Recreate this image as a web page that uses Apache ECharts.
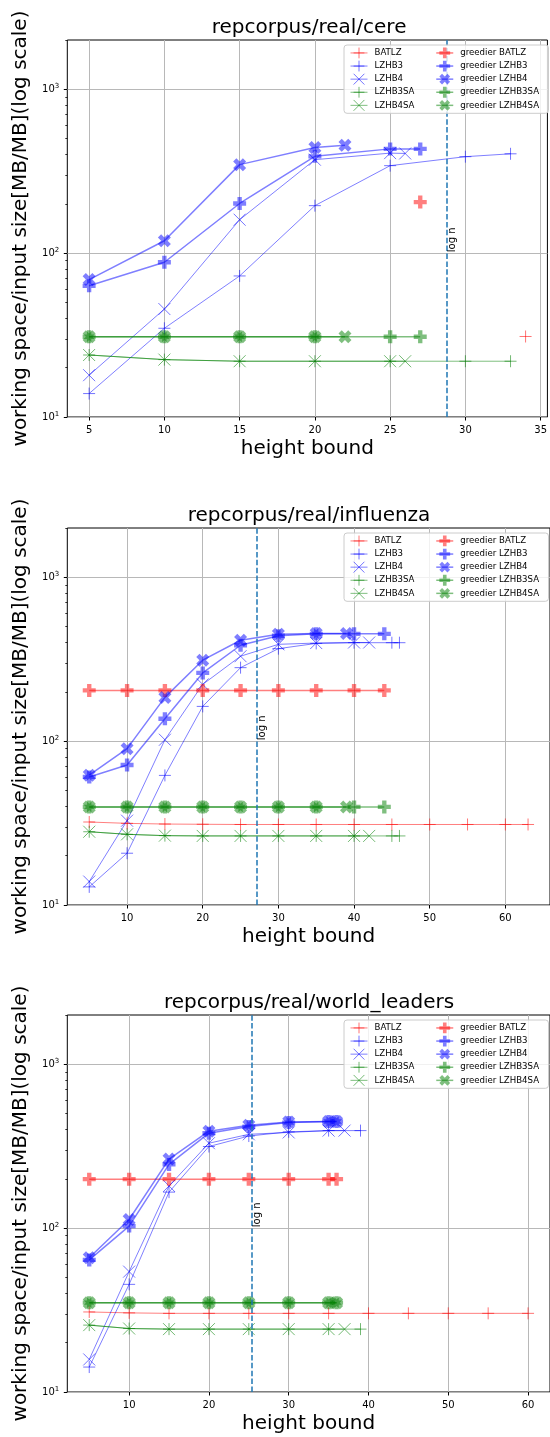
<!DOCTYPE html>
<html>
<head>
<meta charset="utf-8">
<script src="https://cdn.jsdelivr.net/npm/echarts@6/dist/echarts.min.js"></script>
<style>
html,body{margin:0;padding:0;background:#fff;}
#chart{width:550px;height:1437px;}
</style>
</head>
<body>
<div id="chart"></div>
<script>
// ---------------- DATA ----------------
const seriesNames = ['BATLZ', 'LZHB3', 'LZHB4', 'LZHB3SA', 'LZHB4SA',
  'greedier BATLZ', 'greedier LZHB3', 'greedier LZHB4', 'greedier LZHB3SA', 'greedier LZHB4SA'];
const panelTitles = ['repcorpus/real/cere', 'repcorpus/real/influenza', 'repcorpus/real/world_leaders'];
const xAxisName = 'height bound';
const yAxisName = 'working space/input size[MB/MB](log scale)';
const logNValues = [28.79, 27.2, 25.4];
const logNLabel = 'log n';
const logNLabelY = 100;
const xLimits = [[3.55, 35.45], [2.1, 65.9], [2.25, 62.75]];
const yLimits = [10, 2000];
const xTicksCere = [5, 10, 15, 20, 25, 30, 35];
const xTicksInfluenza = [10, 20, 30, 40, 50, 60];
const xTicksLeaders = [10, 20, 30, 40, 50, 60];
const yTicks = [10, 100, 1000];
const yMinorTicks = [20, 30, 40, 50, 60, 70, 80, 90, 200, 300, 400, 500, 600, 700, 800, 900, 2000];

// cere
const cereBATLZ = [[34, 31]];
const cereLZHB3 = [[5, 13.9], [10, 34.8], [15, 72.6], [20, 195], [25, 342], [30, 388], [33, 404]];
const cereLZHB4 = [[5, 18.0], [10, 45.6], [15, 160], [20, 372], [25, 408], [26, 406]];
const cereLZHB3SA = [[5, 23.9], [10, 22.4], [15, 21.9], [20, 21.9], [25, 21.9], [30, 21.9], [33, 21.9]];
const cereLZHB4SA = [[5, 23.9], [10, 22.4], [15, 21.9], [20, 21.9], [25, 21.9], [26, 21.9]];
const cereGBATLZ = [[27, 205]];
const cereGLZHB3 = [[5, 63.2], [10, 88], [15, 201], [20, 390], [25, 433], [27, 433]];
const cereGLZHB4 = [[5, 69], [10, 119], [15, 347], [20, 442], [22, 455]];
const cereGLZHB3SA = [[5, 30.9], [10, 30.9], [15, 30.9], [20, 30.9], [25, 30.9], [27, 30.9]];
const cereGLZHB4SA = [[5, 30.9], [10, 30.9], [15, 30.9], [20, 30.9], [22, 30.9]];

// influenza
const fluBATLZ = [[5, 32.1], [10, 31.5], [15, 31.2], [20, 31.1], [25, 31], [30, 31], [35, 31], [40, 31], [45, 31], [50, 31], [55, 31], [60, 31], [63, 31]];
const fluLZHB3 = [[5, 12.9], [10, 20.7], [15, 61.8], [20, 163], [25, 281], [30, 367], [35, 395], [40, 399], [45, 399], [46, 399]];
const fluLZHB4 = [[5, 13.9], [10, 32.7], [15, 102], [20, 222], [25, 330], [30, 390], [35, 397], [40, 400], [42, 400]];
const fluLZHB3SA = [[5, 28], [10, 27], [15, 26.5], [20, 26.4], [25, 26.4], [30, 26.4], [35, 26.4], [40, 26.4], [45, 26.4], [46, 26.4]];
const fluLZHB4SA = [[5, 28], [10, 27], [15, 26.5], [20, 26.4], [25, 26.4], [30, 26.4], [35, 26.4], [40, 26.4], [42, 26.4]];
const fluGBATLZ = [[5, 204], [10, 204], [15, 204], [20, 204], [25, 204], [30, 204], [35, 204], [40, 204], [44, 204]];
const fluGLZHB3 = [[5, 60.5], [10, 71.5], [15, 137], [20, 261], [25, 385], [30, 440], [35, 452], [40, 452], [44, 452]];
const fluGLZHB4 = [[5, 62], [10, 90], [15, 185], [20, 312], [25, 413], [30, 449], [35, 454], [39, 454]];
const fluGLZHB3SA = [[5, 39.7], [10, 39.7], [15, 39.7], [20, 39.7], [25, 39.7], [30, 39.7], [35, 39.7], [40, 39.7], [44, 39.7]];
const fluGLZHB4SA = [[5, 39.7], [10, 39.7], [15, 39.7], [20, 39.7], [25, 39.7], [30, 39.7], [35, 39.7], [39, 39.7]];

// world_leaders
const wlBATLZ = [[5, 30.8], [10, 30.4], [15, 30.2], [20, 30.2], [25, 30.2], [30, 30.2], [35, 30.2], [40, 30.2], [45, 30.2], [50, 30.2], [55, 30.2], [60, 30.2]];
const wlLZHB3 = [[5, 14.2], [10, 45.4], [15, 166], [20, 315], [25, 365], [30, 387], [35, 394], [39, 394]];
const wlLZHB4 = [[5, 15.8], [10, 54.3], [15, 181], [20, 330], [25, 374], [30, 384], [35, 394], [37, 394]];
const wlLZHB3SA = [[5, 25.6], [10, 24.4], [15, 24.2], [20, 24.2], [25, 24.2], [30, 24.2], [35, 24.2], [39, 24.2]];
const wlLZHB4SA = [[5, 25.6], [10, 24.4], [15, 24.2], [20, 24.2], [25, 24.2], [30, 24.2], [35, 24.2], [37, 24.2]];
const wlGBATLZ = [[5, 199], [10, 199], [15, 199], [20, 199], [25, 199], [30, 199], [35, 199], [36, 199]];
const wlGLZHB3 = [[5, 64], [10, 103], [15, 245], [20, 380], [25, 417], [30, 441], [35, 448], [36, 448]];
const wlGLZHB4 = [[5, 66], [10, 113], [15, 264], [20, 391], [25, 425], [30, 445], [35, 448], [36, 448]];
const wlGLZHB3SA = [[5, 35.1], [10, 35.1], [15, 35.1], [20, 35.1], [25, 35.1], [30, 35.1], [35, 35.1], [36, 35.1]];
const wlGLZHB4SA = [[5, 35.1], [10, 35.1], [15, 35.1], [20, 35.1], [25, 35.1], [30, 35.1], [35, 35.1], [36, 35.1]];

// ---------------- BUILD ----------------
const panels = [
  { title: panelTitles[0], logN: logNValues[0], xLim: xLimits[0], xTicks: xTicksCere,
    data: [cereBATLZ, cereLZHB3, cereLZHB4, cereLZHB3SA, cereLZHB4SA, cereGBATLZ, cereGLZHB3, cereGLZHB4, cereGLZHB3SA, cereGLZHB4SA] },
  { title: panelTitles[1], logN: logNValues[1], xLim: xLimits[1], xTicks: xTicksInfluenza,
    data: [fluBATLZ, fluLZHB3, fluLZHB4, fluLZHB3SA, fluLZHB4SA, fluGBATLZ, fluGLZHB3, fluGLZHB4, fluGLZHB3SA, fluGLZHB4SA] },
  { title: panelTitles[2], logN: logNValues[2], xLim: xLimits[2], xTicks: xTicksLeaders,
    data: [wlBATLZ, wlLZHB3, wlLZHB4, wlLZHB3SA, wlLZHB4SA, wlGBATLZ, wlGLZHB3, wlGLZHB4, wlGLZHB3SA, wlGLZHB4SA] }
];

const FONT = 'DejaVu Sans';
const RED = [255, 0, 0], BLUE = [0, 0, 255], GREEN = [0, 128, 0];
const rgba = (c, a) => `rgba(${c[0]},${c[1]},${c[2]},${a})`;
const SYM = {
  plus: 'path://M5,0L5,10M0,5L10,5',
  cross: 'path://M0,0L10,10M10,0L0,10',
  P: 'path://M3.33,0H6.67V3.33H10V6.67H6.67V10H3.33V6.67H0V3.33H3.33Z',
  X: 'path://M2.5,0L5,2.5L7.5,0L10,2.5L7.5,5L10,7.5L7.5,10L5,7.5L2.5,10L0,7.5L2.5,5L0,2.5Z'
};
const styleFor = [
  { c: RED, sym: 'plus', greedy: false },
  { c: BLUE, sym: 'plus', greedy: false },
  { c: BLUE, sym: 'cross', greedy: false },
  { c: GREEN, sym: 'plus', greedy: false },
  { c: GREEN, sym: 'cross', greedy: false },
  { c: RED, sym: 'P', greedy: true },
  { c: BLUE, sym: 'P', greedy: true },
  { c: BLUE, sym: 'X', greedy: true },
  { c: GREEN, sym: 'P', greedy: true },
  { c: GREEN, sym: 'X', greedy: true }
];

const plotTops = [40, 528, 1015];
const plotH = 377, plotLeft = 67.3, plotW = 483.5;

const option = {
  animation: false,
  backgroundColor: '#ffffff',
  title: [], grid: [], xAxis: [], yAxis: [], legend: [], series: []
};

const legendCommon = {
  orient: 'vertical', itemWidth: 17, itemHeight: 13.5, itemGap: 0,
  selectedMode: false,
  itemStyle: { borderWidth: 'inherit' },
  lineStyle: { width: 'inherit' },
  textStyle: { fontFamily: FONT, fontSize: 8.6, color: '#000', lineHeight: 13.1, padding: [0, 0, 0, 2] }
};

const yMinor = [];
panels.forEach((p, i) => {
  const top = plotTops[i];
  option.title.push({
    text: p.title, left: plotLeft + plotW / 2, top: top - 22, textAlign: 'center', padding: 0,
    textStyle: { fontFamily: FONT, fontSize: 20, fontWeight: 'normal', color: '#000' }
  });
  option.grid.push({
    left: plotLeft, top: top, width: plotW, height: plotH,
    show: true, borderColor: '#000', borderWidth: 1, backgroundColor: 'transparent'
  });
  option.xAxis.push({
    gridIndex: i, type: 'value', min: p.xLim[0], max: p.xLim[1],
    name: xAxisName, nameLocation: 'middle', nameGap: 22,
    nameTextStyle: { fontFamily: FONT, fontSize: 20, color: '#000' },
    axisLine: { show: false },
    axisTick: { show: true, length: 3.5, customValues: p.xTicks, lineStyle: { color: '#000', width: 1 } },
    axisLabel: { customValues: p.xTicks, fontFamily: FONT, fontSize: 10, color: '#000', margin: 8 },
    splitLine: { show: true, lineStyle: { color: '#b8b8b8', width: 1 } }
  });
  option.yAxis.push({
    gridIndex: i, type: 'log', logBase: 10, min: yLimits[0], max: yLimits[1], position: 'left',
    name: yAxisName, nameLocation: 'middle', nameGap: 28, nameRotate: 90,
    nameTextStyle: { fontFamily: FONT, fontSize: 20, color: '#000' },
    axisLine: { show: false },
    axisTick: { show: true, length: 3.5, customValues: yTicks, lineStyle: { color: '#000', width: 1 } },
    axisLabel: {
      customValues: yTicks, margin: 8, color: '#000',
      formatter: v => '{b|10}{s|' + Math.round(Math.log10(v)) + '}',
      rich: {
        b: { fontFamily: FONT, fontSize: 10, color: '#000' },
        s: { fontFamily: FONT, fontSize: 7, color: '#000', padding: [0, 0, 6, 0] }
      }
    },
    splitLine: { show: true, lineStyle: { color: '#b8b8b8', width: 1 } }
  });
  yMinor.push({
    gridIndex: i, type: 'log', logBase: 10, min: yLimits[0], max: yLimits[1], position: 'left',
    axisLine: { show: false }, axisLabel: { show: false }, splitLine: { show: false },
    axisTick: { show: true, length: 2, customValues: yMinorTicks, lineStyle: { color: '#000', width: 0.8 } }
  });
  // left legend column carries the shared frame
  option.legend.push(Object.assign({}, legendCommon, {
    left: 344, top: top + 5, z: 20,
    padding: [1.4, 134, 1.4, 6],
    backgroundColor: 'rgba(255,255,255,0.8)', borderColor: '#cccccc', borderWidth: 1, borderRadius: 3,
    data: seriesNames.slice(0, 5)
  }));
  option.legend.push(Object.assign({}, legendCommon, {
    left: 435.5, top: top + 5, z: 21,
    padding: [1.4, 0, 1.4, 0],
    data: seriesNames.slice(5)
  }));

  seriesNames.forEach((name, k) => {
    const st = styleFor[k];
    const s = {
      name: name, type: 'line', xAxisIndex: i, yAxisIndex: i,
      data: p.data[k],
      symbol: SYM[st.sym], symbolSize: st.greedy ? 13 : 12, showSymbol: true,
      lineStyle: { color: rgba(st.c, 0.5), width: st.greedy ? 1.5 : 1 },
      itemStyle: st.greedy
        ? { color: rgba(st.c, 0.5), borderWidth: 0 }
        : { color: rgba(st.c, 0.5), borderColor: rgba(st.c, 0.55), borderWidth: 1 },
      emphasis: { disabled: true }
    };
    if (k === 0) {
      s.markLine = {
        silent: true, symbol: ['none', 'none'], animation: false,
        label: { show: false },
        lineStyle: { color: '#1f77b4', type: [5.5, 2.4], width: 1.5 },
        data: [{ xAxis: p.logN }]
      };
      s.markPoint = {
        silent: true, symbol: 'circle', symbolSize: 0, animation: false,
        itemStyle: { color: 'transparent' },
        label: {
          show: true, formatter: logNLabel, position: 'inside', rotate: 90,
          align: 'left', verticalAlign: 'top', offset: [1, 0],
          fontFamily: FONT, fontSize: 10, color: '#000'
        },
        data: [{ coord: [p.logN, logNLabelY] }]
      };
    }
    option.series.push(s);
  });
});
option.yAxis = option.yAxis.concat(yMinor);

const chart = echarts.init(document.getElementById('chart'), null, { renderer: 'canvas', width: 550, height: 1437 });
chart.setOption(option);
</script>
</body>
</html>
